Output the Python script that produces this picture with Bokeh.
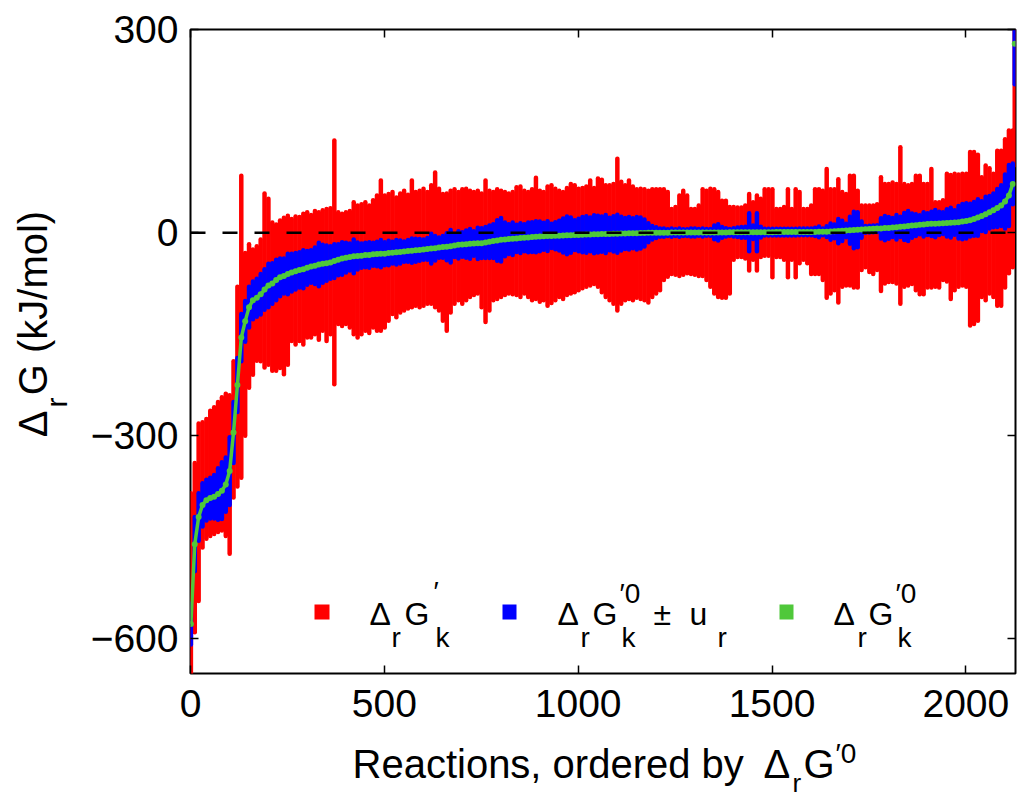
import math
from bokeh.plotting import figure
from bokeh.layouts import row, column
from bokeh.models import (Range1d, FixedTicker, LinearAxis, Span, Label,
                          BoxAnnotation, ColumnDataSource)
from bokeh.embed import file_html
from bokeh.resources import INLINE

# ---------------- data ----------------
# reaction rank (every 10th reaction, plus the last one)
reaction = list(range(1, 2122, 10)) + [2126]

# standard transformed Gibbs energy of reaction (green dots), kJ/mol
dg0 = [
    -578, -460, -420, -402, -395, -392, -390, -386, -381, -372,
    -352, -295, -225, -155, -131, -110, -100, -96, -91, -84,
    -78, -75, -70, -66, -64, -61, -59, -57, -55, -54,
    -52, -50, -49, -47, -46, -45, -44, -42, -40, -38,
    -37, -36, -35, -34.5, -34, -33, -33, -32, -31.5, -31,
    -31, -30, -29.5, -29, -28.5, -28, -27, -26.6, -26, -25.5,
    -25, -24, -23.5, -23, -22, -21, -20.7, -20, -19, -18,
    -17.5, -17, -16.5, -16, -15.8, -15.5, -14.5, -13.5, -12.5, -11.5,
    -10.5, -10, -9.5, -9, -8.5, -8, -7.5, -7, -6.5, -6,
    -5.5, -5.2, -5, -4.8, -4.5, -4.4, -4.2, -4, -3.8, -3.5,
    -3.3, -3, -2.8, -2.6, -2.4, -2.2, -2.1, -2, -2, -1.8,
    -1.6, -1.4, -1.2, -1, -0.9, -0.7, -0.5, -0.4, -0.2, -0.1,
    0, 0, 0, 0, 0.1, 0.1, 0.1, 0.2, 0.2, 0.2,
    0.2, 0.3, 0.3, 0.3, 0.3, 0.4, 0.4, 0.4, 0.4, 0.5,
    0.5, 0.5, 0.5, 0.6, 0.6, 0.6, 0.6, 0.7, 0.7, 0.7,
    0.7, 0.8, 0.8, 0.8, 0.9, 0.9, 0.9, 1.0, 1.0, 1.0,
    1.0, 1.1, 1.2, 1.3, 1.4, 1.6, 1.9, 2.3, 2.7, 3.2,
    3.6, 4.0, 4.3, 4.6, 5.0, 5.3, 5.7, 6.0, 6.3, 6.7,
    7, 7.5, 8, 8.6, 9.2, 9.8, 10.4, 11, 11.6, 12.2,
    12.6, 13, 13.3, 13.7, 14, 14.4, 14.7, 15, 15.5, 16.3,
    17.3, 18.5, 20.3, 22.3, 24.5, 27, 30, 33, 36.5, 40,
    46, 55, 72, 279,
]

# uncertainty u_r (half height of the blue bars), kJ/mol
u_r = [
    30, 40, 35, 32, 30, 30, 32, 38, 42, 40,
    50, 45, 40, 35, 30, 30, 28, 28, 30, 30,
    32, 30, 30, 28, 26, 30, 28, 27, 26, 28,
    25, 24, 27, 32, 28, 26, 24, 25, 23, 24,
    22, 20, 25, 20, 18, 18, 19, 17, 18, 20,
    17, 18, 16, 18, 17, 15, 16, 18, 17, 16,
    15, 16, 22, 18, 15, 16, 20, 24, 17, 20,
    18, 20, 22, 18, 23, 22, 23, 24, 25, 30,
    32, 25, 22, 24, 20, 22, 20, 22, 22, 23,
    22, 20, 22, 18, 20, 22, 25, 28, 26, 22,
    24, 26, 27, 25, 28, 27, 26, 28, 24, 26,
    28, 25, 23, 24, 22, 24, 23, 20, 14, 10,
    8, 6, 6, 5, 6, 5, 6, 5, 5, 6,
    6, 5, 6, 5, 5, 10, 12, 8, 6, 5,
    6, 7, 8, 8, 28, 10, 28, 8, 5, 5,
    5, 5, 5, 5, 5, 5, 5, 5, 5, 5,
    5, 6, 8, 5, 8, 12, 10, 18, 15, 10,
    20, 27, 26, 12, 5, 5, 5, 5, 15, 18,
    16, 14, 18, 15, 20, 22, 18, 16, 14, 18,
    16, 18, 20, 17, 16, 20, 22, 18, 24, 26,
    26, 24, 25, 27, 22, 26, 24, 25, 28, 30,
    40, 45, 30, 60,
]

# range of the transformed Gibbs energy over conditions (red bars), kJ/mol
dg_max = [
    -385, -340, -282, -280, -275, -263, -258, -250, -243, -238,
    -240, -190, -80, 84, -30, -17, -25, -20, -10, 58,
    50, 15, 12, 18, 22, 25, 20, 24, 23, 28,
    30, 26, 32, 30, 33, 35, 36, 136, 30, 28,
    30, 32, 45, 40, 42, 45, 40, 48, 55, 77,
    55, 57, 60, 52, 58, 62, 56, 77, 60, 62,
    65, 60, 70, 89, 65, 57, 58, 62, 64, 60,
    64, 65, 62, 60, 62, 58, 77, 62, 60, 64,
    62, 60, 58, 60, 67, 68, 62, 60, 64, 81,
    62, 60, 68, 70, 65, 62, 60, 66, 72, 70,
    65, 66, 68, 77, 66, 80, 78, 70, 70, 72,
    109, 75, 70, 77, 68, 64, 65, 64, 62, 64,
    64, 64, 64, 60, 35, 38, 55, 62, 55, 35,
    35, 40, 64, 62, 65, 64, 60, 47, 47, 38,
    38, 37, 37, 40, 57, 45, 55, 50, 64, 64,
    64, 35, 35, 38, 64, 35, 64, 60, 35, 35,
    40, 64, 64, 62, 94, 64, 64, 79, 60, 57,
    84, 84, 62, 40, 40, 40, 40, 42, 82, 72,
    72, 74, 72, 126, 72, 70, 72, 84, 84, 72,
    72, 94, 45, 45, 48, 87, 85, 87, 86, 87,
    87, 119, 119, 115, 82, 99, 95, 87, 121, 121,
    138, 151, 151, 330,
]

dg_min = [
    -680, -590, -544, -465, -452, -448, -445, -442, -440, -448,
    -474, -391, -375, -362, -300, -229, -210, -189, -190, -199,
    -195, -204, -204, -200, -209, -195, -160, -165, -160, -165,
    -155, -155, -150, -158, -145, -160, -150, -224, -135, -138,
    -135, -140, -150, -155, -150, -145, -148, -140, -145, -145,
    -140, -130, -120, -125, -118, -115, -112, -110, -108, -110,
    -108, -105, -105, -110, -115, -130, -145, -118, -105, -100,
    -105, -100, -95, -92, -90, -110, -132, -115, -100, -98,
    -95, -92, -90, -91, -92, -95, -90, -95, -100, -98,
    -102, -100, -108, -104, -100, -95, -98, -92, -90, -88,
    -85, -82, -80, -78, -76, -80, -88, -95, -100, -105,
    -115, -105, -100, -98, -100, -96, -98, -100, -103, -95,
    -90, -85, -70, -65, -61, -62, -64, -62, -60, -61,
    -62, -64, -64, -70, -80, -90, -95, -96, -96, -90,
    -40, -36, -36, -38, -56, -40, -56, -36, -34, -34,
    -66, -36, -36, -40, -66, -40, -66, -45, -40, -45,
    -61, -61, -61, -70, -96, -90, -85, -103, -80, -78,
    -78, -81, -81, -55, -51, -58, -61, -55, -86, -75,
    -73, -73, -75, -105, -80, -78, -76, -85, -91, -91,
    -81, -81, -80, -81, -70, -72, -98, -85, -80, -78,
    -80, -137, -135, -130, -95, -100, -90, -95, -108, -108,
    -81, -60, -51, 100,
]

x_ticks = [0, 500, 1000, 1500, 2000]
y_ticks = [-600, -300, 0, 300]
y_tick_labels = {-600: "\u2212600", -300: "\u2212300", 0: "0", 300: "300"}

# ---------------- layout / styling ----------------
RED, BLUE, GREEN = "#FF0000", "#0000FF", "#4FC83A"
FONT = "Liberation Sans"
W, H = 1017, 797
LW = 80            # width of the strip holding the y-axis title
TOPH = 736         # height of the row holding the plot
FL, FB = 190, 673  # frame left / bottom in page pixels
BASE = 0.32        # empirical baseline correction (fraction of font size)

p = figure(width=W - LW, height=TOPH, x_range=Range1d(0, 2128), y_range=Range1d(-651, 300),
           output_backend="svg", toolbar_location=None,
           min_border_left=FL - LW, min_border_right=2, min_border_top=29,
           min_border_bottom=TOPH - FB,
           background_fill_color="white", border_fill_color="white")
p.grid.visible = False
p.outline_line_color = "black"
p.outline_line_width = 2


def style_axis(ax, ticks, show_labels=True):
    ax.ticker = FixedTicker(ticks=ticks)
    ax.axis_line_color = None
    ax.major_tick_in = 8
    ax.major_tick_out = 0
    ax.major_tick_line_width = 1.5
    ax.major_tick_line_color = "black"
    ax.minor_tick_line_color = None
    ax.major_label_text_font = FONT
    if show_labels:
        ax.major_label_text_font_size = "39px"
        ax.major_label_text_color = "black"
    else:
        ax.major_label_text_font_size = "0px"
        ax.major_label_text_color = None
        ax.major_label_standoff = 0


style_axis(p.xaxis[0], x_ticks)
p.xaxis[0].major_label_standoff = 16
style_axis(p.yaxis[0], y_ticks)
p.yaxis[0].major_label_standoff = 12
p.yaxis[0].major_label_overrides = y_tick_labels

top_ax = LinearAxis()
style_axis(top_ax, x_ticks, show_labels=False)
p.add_layout(top_ax, "above")
right_ax = LinearAxis()
style_axis(right_ax, y_ticks, show_labels=False)
p.add_layout(right_ax, "right")

src = ColumnDataSource(dict(
    x=reaction, lo=dg_min, hi=dg_max, g=dg0,
    blo=[g - u for g, u in zip(dg0, u_r)],
    bhi=[g + u for g, u in zip(dg0, u_r)],
))
p.segment(x0="x", y0="lo", x1="x", y1="hi", source=src,
          line_color=RED, line_width=4.5, line_cap="round")
p.segment(x0="x", y0="blo", x1="x", y1="bhi", source=src,
          line_color=BLUE, line_width=4.5, line_cap="round")
# continuous green trace for the densely packed dots (not through the last outlier)
p.line(x=reaction[:-1], y=dg0[:-1], line_color=GREEN, line_width=3.5)
p.scatter(x="x", y="g", source=src, size=6, marker="circle",
          fill_color=GREEN, line_color=None)

p.add_layout(Span(location=0, dimension="width", line_color="black",
                  line_width=2.5, line_dash="15 17"))


def add_text(fig, s, cx, cy, size, units, ox, oy, angle=0.0):
    # cx, cy: wanted baseline-start position in page pixels
    ax_ = cx - BASE * size * math.sin(angle)
    ay_ = cy - BASE * size * math.cos(angle)
    fig.add_layout(Label(x=ax_ - ox, y=oy - ay_, x_units=units, y_units=units,
                         text=s, text_font=FONT, text_font_size=f"{size}px",
                         text_color="black", text_align="left",
                         text_baseline="alphabetic", angle=angle))


def ptxt(s, cx, cy, size):
    add_text(p, s, cx, cy, size, "screen", FL, FB)


def square(x0, y0, x1, y1, color):
    p.add_layout(BoxAnnotation(left=x0 - FL, right=x1 - FL, top=FB - y0, bottom=FB - y1,
                               left_units="screen", right_units="screen",
                               top_units="screen", bottom_units="screen",
                               fill_color=color, fill_alpha=1.0, line_color=None))


# legend (inside the plot)
square(314, 604, 329, 619, RED)
square(502, 604, 516, 619, BLUE)
square(779, 604, 793, 619, GREEN)

MB, SB, PB = 624, 646, 602   # main / subscript / superscript baselines
ptxt("\u0394", 369, MB, 32)
ptxt("r", 391, SB, 28)
ptxt("G", 404, MB, 32)
ptxt("\u2032", 433, PB - 2, 28)
ptxt("k", 435, SB, 28)

ptxt("\u0394", 557, MB, 32)
ptxt("r", 580, SB, 28)
ptxt("G", 592, MB, 32)
ptxt("\u20320", 619, PB, 28)
ptxt("k", 621, SB, 28)
ptxt("\u00b1", 653, MB, 32)
ptxt("u", 689, MB, 32)
ptxt("r", 717, SB, 28)

ptxt("\u0394", 833, MB, 32)
ptxt("r", 857, SB, 28)
ptxt("G", 868, MB, 32)
ptxt("\u20320", 895, PB, 28)
ptxt("k", 897, SB, 28)


def blank_fig(w, h):
    f = figure(width=w, height=h, x_range=Range1d(0, w), y_range=Range1d(0, h),
               min_border=0, toolbar_location=None, output_backend="svg",
               x_axis_type=None, y_axis_type=None,
               background_fill_color="white", border_fill_color="white")
    f.outline_line_color = None
    f.grid.visible = False
    return f


# y-axis title strip (page x 0..LW, y 0..TOPH)
yl = blank_fig(LW, TOPH)
A = math.pi / 2
add_text(yl, "\u0394", 45, 466, 40, "data", 0, TOPH, A)
add_text(yl, "r", 66, 432, 30, "data", 0, TOPH, A)
add_text(yl, "G (kJ/mol)", 45, 418, 40, "data", 0, TOPH, A)

# x-axis title strip (page y TOPH..H)
xl = blank_fig(W, H - TOPH)
add_text(xl, "Reactions, ordered by", 352, 776, 40, "data", 0, H)
add_text(xl, "\u0394", 763, 776, 40, "data", 0, H)
add_text(xl, "r", 792, 791, 26, "data", 0, H)
add_text(xl, "G", 803, 776, 40, "data", 0, H)
add_text(xl, "\u20320", 835, 762, 28, "data", 0, H)

layout = column(row(yl, p, spacing=0), xl, spacing=0)
open("out.html", "w").write(file_html(layout, INLINE))
